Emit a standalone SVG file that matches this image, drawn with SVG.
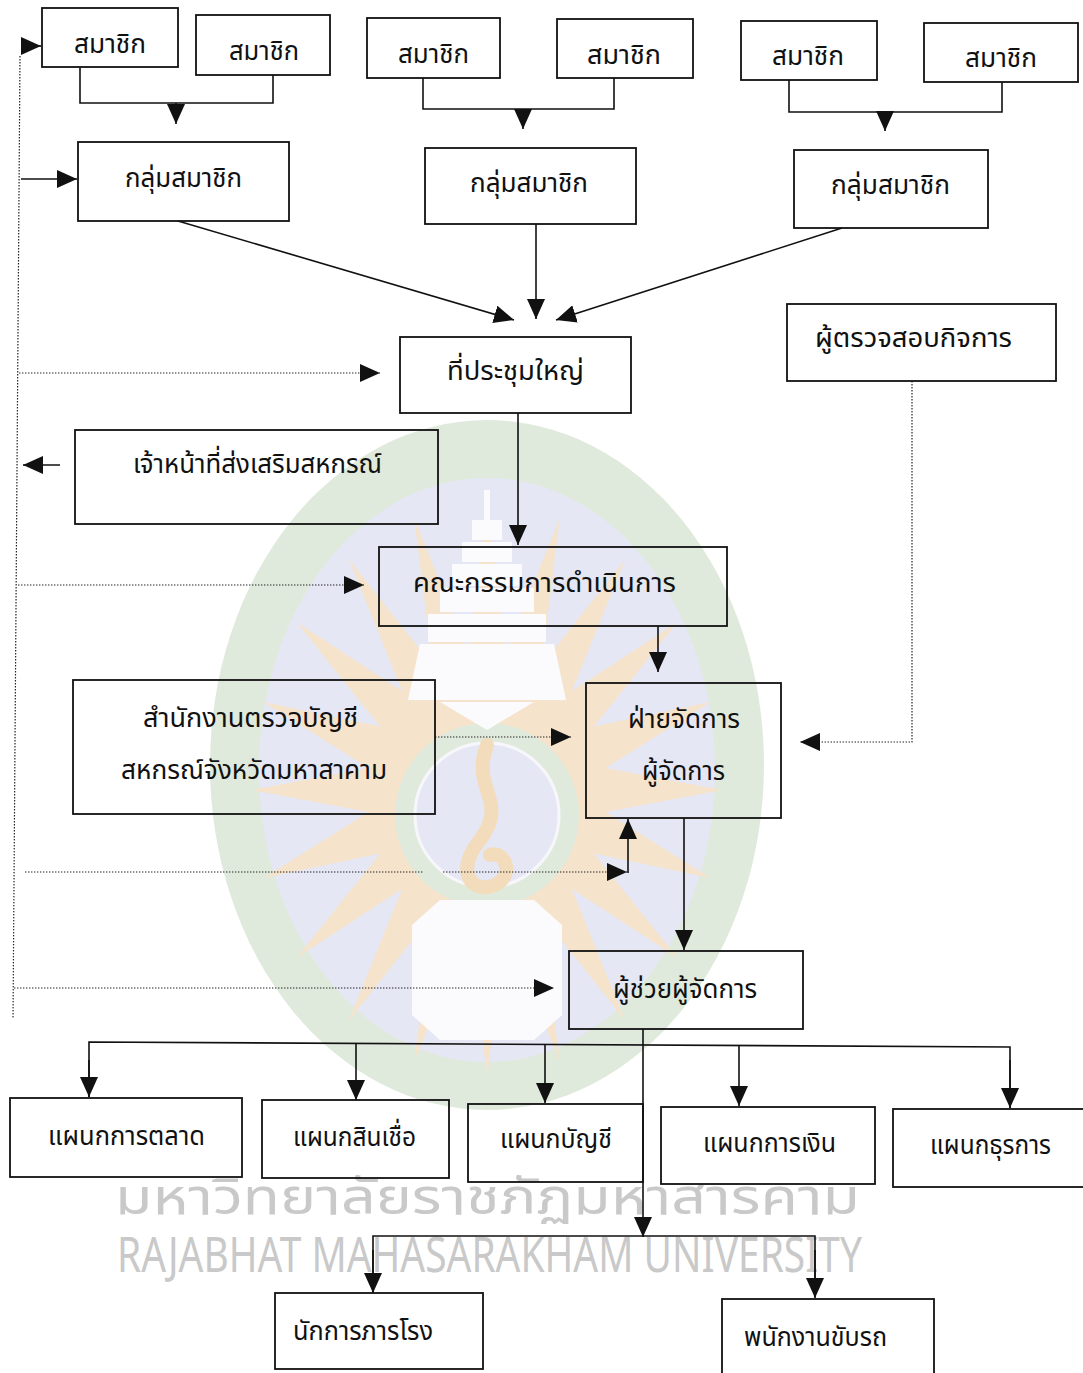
<svg xmlns="http://www.w3.org/2000/svg" width="1083" height="1373" viewBox="0 0 1083 1373">
<style>
  .box { fill: none; stroke: #111; stroke-width: 1.8; }
  .t { font-family: 'Noto Sans Thai', 'Noto Sans', 'DejaVu Sans', sans-serif; font-size: 27px; fill: #111; }
  .ln { fill: none; stroke: #111; stroke-width: 1.6; }
  .dot { fill: none; stroke: #222; stroke-width: 1.2; stroke-dasharray: 1.4 1.6; }
  .wm { font-family: 'Noto Sans Thai', 'Liberation Sans', sans-serif; fill: #c9c9c9; }
</style>
<defs>
  <marker id="ah" viewBox="0 0 20 18" refX="20" refY="9" markerWidth="20" markerHeight="18" markerUnits="userSpaceOnUse" orient="auto">
    <path d="M0,0 L20,9 L0,18 z" fill="#111"/>
  </marker>
</defs>
<rect width="1083" height="1373" fill="#fff"/>

<g id="watermark">
  <ellipse cx="487" cy="765" rx="277" ry="345" fill="#e0eadc"/>
  <ellipse cx="487" cy="770" rx="228" ry="292" fill="#e5e7f4"/>
  <polygon fill="#f6e3cb" points="722,790 605.5,811.9 710.5,878.1 593.9,853.6 677.1,957.5 571.9,889 625.1,1020.6 541.5,914.7 559.6,1061.1 505.8,928.3 487,1075 468.2,928.3 414.4,1061.1 432.5,914.7 348.9,1020.6 402.1,889 296.9,957.5 380.1,853.6 263.5,878.1 368.5,811.9 252,790 368.5,768.1 263.5,701.9 380.1,726.4 296.9,622.5 402.1,691 348.9,559.4 432.5,665.3 414.4,518.9 468.2,651.7 487,505 505.8,651.7 559.6,518.9 541.5,665.3 625.1,559.4 571.9,691 677.1,622.5 593.9,726.4 710.5,701.9 605.5,768.1"/>
  <circle cx="487" cy="815" r="92" fill="#e0eadc"/>
  <circle cx="487" cy="815" r="72" fill="#e5e7f4" stroke="#f7f7fb" stroke-width="3"/>
  <path d="M487,745 C470,790 510,800 480,840 C455,870 470,895 495,885 C515,875 505,850 490,855" fill="none" stroke="#f3dcbb" stroke-width="14" stroke-linecap="round"/>
  <g fill="#fbfbfd">
    <rect x="484" y="490" width="6" height="30"/>
    <rect x="472" y="520" width="30" height="20"/>
    <rect x="462" y="542" width="50" height="20"/>
    <rect x="452" y="564" width="70" height="22"/>
    <rect x="440" y="588" width="94" height="24"/>
    <rect x="428" y="614" width="118" height="28"/>
    <path d="M420,644 L554,644 L566,700 L408,700 z"/>
    <path d="M440,702 L534,702 L487,730 z"/>
    <path d="M440,900 L534,900 L562,925 L562,1015 L534,1040 L440,1040 L412,1015 L412,925 z"/>
  </g>
  <text class="wm" x="115" y="1214" font-size="50" textLength="745" lengthAdjust="spacingAndGlyphs">มหาวิทยาลัยราชภัฏมหาสารคาม</text>
  <text class="wm" x="117" y="1272" font-size="50" textLength="745" lengthAdjust="spacingAndGlyphs">RAJABHAT MAHASARAKHAM UNIVERSITY</text>
</g>

<g id="connectors">
  <path class="ln" d="M80,67 V103 H273 V75"/>
  <path class="ln" d="M176,103 V124" marker-end="url(#ah)"/>
  <path class="ln" d="M423,78 V109 H614 V78"/>
  <path class="ln" d="M523,109 V129" marker-end="url(#ah)"/>
  <path class="ln" d="M789,80 V112 H1002 V82"/>
  <path class="ln" d="M885,112 V131" marker-end="url(#ah)"/>
  <path class="ln" d="M178,221 L514,320" marker-end="url(#ah)"/>
  <path class="ln" d="M536,224 V319" marker-end="url(#ah)"/>
  <path class="ln" d="M842,228 L556,320" marker-end="url(#ah)"/>
  <path class="dot" d="M20,56 L13,1018"/>
  <path class="ln" d="M22,46 H41" marker-end="url(#ah)"/>
  <path class="ln" d="M21,179 H77" marker-end="url(#ah)"/>
  <path class="dot" d="M19,373 H380" marker-end="url(#ah)"/>
  <path class="ln" d="M60,465 H23" marker-end="url(#ah)"/>
  <path class="ln" d="M518,413 V545" marker-end="url(#ah)"/>
  <path class="dot" d="M18,585 H364" marker-end="url(#ah)"/>
  <path class="ln" d="M658,626 V672" marker-end="url(#ah)"/>
  <path class="dot" d="M912,381 V742 H800" marker-end="url(#ah)"/>
  <path class="dot" d="M435,737 H571" marker-end="url(#ah)"/>
  <path class="dot" d="M25,872 H424 M443,872 H627" marker-end="url(#ah)"/>
  <path class="ln" d="M628,873 V819" marker-end="url(#ah)"/>
  <path class="ln" d="M684,818 V950" marker-end="url(#ah)"/>
  <path class="dot" d="M14,988 H554" marker-end="url(#ah)"/>
  <path class="ln" d="M89,1097 V1042 L1010,1047 V1108"/>
  <path class="ln" d="M89,1060 V1097" marker-end="url(#ah)"/>
  <path class="ln" d="M356,1043 V1100" marker-end="url(#ah)"/>
  <path class="ln" d="M545,1044 V1103" marker-end="url(#ah)"/>
  <path class="ln" d="M739,1045 V1106" marker-end="url(#ah)"/>
  <path class="ln" d="M1010,1060 V1108" marker-end="url(#ah)"/>
  <path class="ln" d="M643,1029 V1237" marker-end="url(#ah)"/>
  <path class="ln" d="M373,1293 V1236 H815 V1297"/>
  <path class="ln" d="M373,1250 V1293" marker-end="url(#ah)"/>
  <path class="ln" d="M815,1250 V1298" marker-end="url(#ah)"/>
</g>

<g id="member1"><rect class="box" x="42" y="8" width="136" height="59"/><text class="t" x="74" y="53" textLength="72" lengthAdjust="spacingAndGlyphs">สมาชิก</text></g>
<g id="member2"><rect class="box" x="196" y="15" width="134" height="60"/><text class="t" x="229" y="60" textLength="70" lengthAdjust="spacingAndGlyphs">สมาชิก</text></g>
<g id="member3"><rect class="box" x="367" y="18" width="133" height="60"/><text class="t" x="398" y="63" textLength="71" lengthAdjust="spacingAndGlyphs">สมาชิก</text></g>
<g id="member4"><rect class="box" x="557" y="19" width="136" height="59"/><text class="t" x="587" y="64" textLength="74" lengthAdjust="spacingAndGlyphs">สมาชิก</text></g>
<g id="member5"><rect class="box" x="741" y="21" width="136" height="59"/><text class="t" x="772" y="65" textLength="72" lengthAdjust="spacingAndGlyphs">สมาชิก</text></g>
<g id="member6"><rect class="box" x="924" y="23" width="154" height="59"/><text class="t" x="965" y="67" textLength="72" lengthAdjust="spacingAndGlyphs">สมาชิก</text></g>

<g id="group1"><rect class="box" x="78" y="142" width="211" height="79"/><text class="t" x="125" y="187" textLength="117" lengthAdjust="spacingAndGlyphs">กลุ่มสมาชิก</text></g>
<g id="group2"><rect class="box" x="425" y="148" width="211" height="76"/><text class="t" x="470" y="192" textLength="118" lengthAdjust="spacingAndGlyphs">กลุ่มสมาชิก</text></g>
<g id="group3"><rect class="box" x="794" y="150" width="194" height="78"/><text class="t" x="831" y="194" textLength="119" lengthAdjust="spacingAndGlyphs">กลุ่มสมาชิก</text></g>

<g id="general-meeting"><rect class="box" x="400" y="337" width="231" height="76"/><text class="t" x="447" y="380" textLength="137" lengthAdjust="spacingAndGlyphs">ที่ประชุมใหญ่</text></g>
<g id="auditor"><rect class="box" x="787" y="304" width="269" height="77"/><text class="t" x="815" y="347" textLength="197" lengthAdjust="spacingAndGlyphs">ผู้ตรวจสอบกิจการ</text></g>
<g id="promotion-officer"><rect class="box" x="75" y="430" width="363" height="94"/><text class="t" x="133" y="473" textLength="249" lengthAdjust="spacingAndGlyphs">เจ้าหน้าที่ส่งเสริมสหกรณ์</text></g>
<g id="board"><rect class="box" x="379" y="547" width="348" height="79"/><text class="t" x="413" y="592" textLength="263" lengthAdjust="spacingAndGlyphs">คณะกรรมการดำเนินการ</text></g>
<g id="audit-office"><rect class="box" x="73" y="680" width="362" height="134"/><text class="t" x="143" y="727" textLength="215" lengthAdjust="spacingAndGlyphs">สำนักงานตรวจบัญชี</text><text class="t" x="121" y="779" textLength="266" lengthAdjust="spacingAndGlyphs">สหกรณ์จังหวัดมหาสาคาม</text></g>
<g id="management"><rect class="box" x="586" y="683" width="195" height="135"/><text class="t" x="628" y="728" textLength="112" lengthAdjust="spacingAndGlyphs">ฝ่ายจัดการ</text><text class="t" x="642" y="780" textLength="83" lengthAdjust="spacingAndGlyphs">ผู้จัดการ</text></g>
<g id="assistant-manager"><rect class="box" x="569" y="951" width="234" height="78"/><text class="t" x="613" y="998" textLength="144" lengthAdjust="spacingAndGlyphs">ผู้ช่วยผู้จัดการ</text></g>

<g id="marketing"><rect class="box" x="10" y="1098" width="232" height="79"/><text class="t" x="48" y="1145" textLength="157" lengthAdjust="spacingAndGlyphs">แผนกการตลาด</text></g>
<g id="credit"><rect class="box" x="262" y="1100" width="187" height="78"/><text class="t" x="293" y="1146" textLength="123" lengthAdjust="spacingAndGlyphs">แผนกสินเชื่อ</text></g>
<g id="accounting"><rect class="box" x="468" y="1104" width="175" height="78"/><text class="t" x="500" y="1148" textLength="112" lengthAdjust="spacingAndGlyphs">แผนกบัญชี</text></g>
<g id="finance"><rect class="box" x="661" y="1107" width="214" height="77"/><text class="t" x="703" y="1152" textLength="133" lengthAdjust="spacingAndGlyphs">แผนกการเงิน</text></g>
<g id="admin"><rect class="box" x="893" y="1109" width="200" height="78"/><text class="t" x="930" y="1154" textLength="121" lengthAdjust="spacingAndGlyphs">แผนกธุรการ</text></g>
<g id="janitor"><rect class="box" x="275" y="1293" width="208" height="76"/><text class="t" x="293" y="1340" textLength="140" lengthAdjust="spacingAndGlyphs">นักการภารโรง</text></g>
<g id="driver"><rect class="box" x="722" y="1299" width="212" height="84"/><text class="t" x="744" y="1346" textLength="143" lengthAdjust="spacingAndGlyphs">พนักงานขับรถ</text></g>
</svg>
